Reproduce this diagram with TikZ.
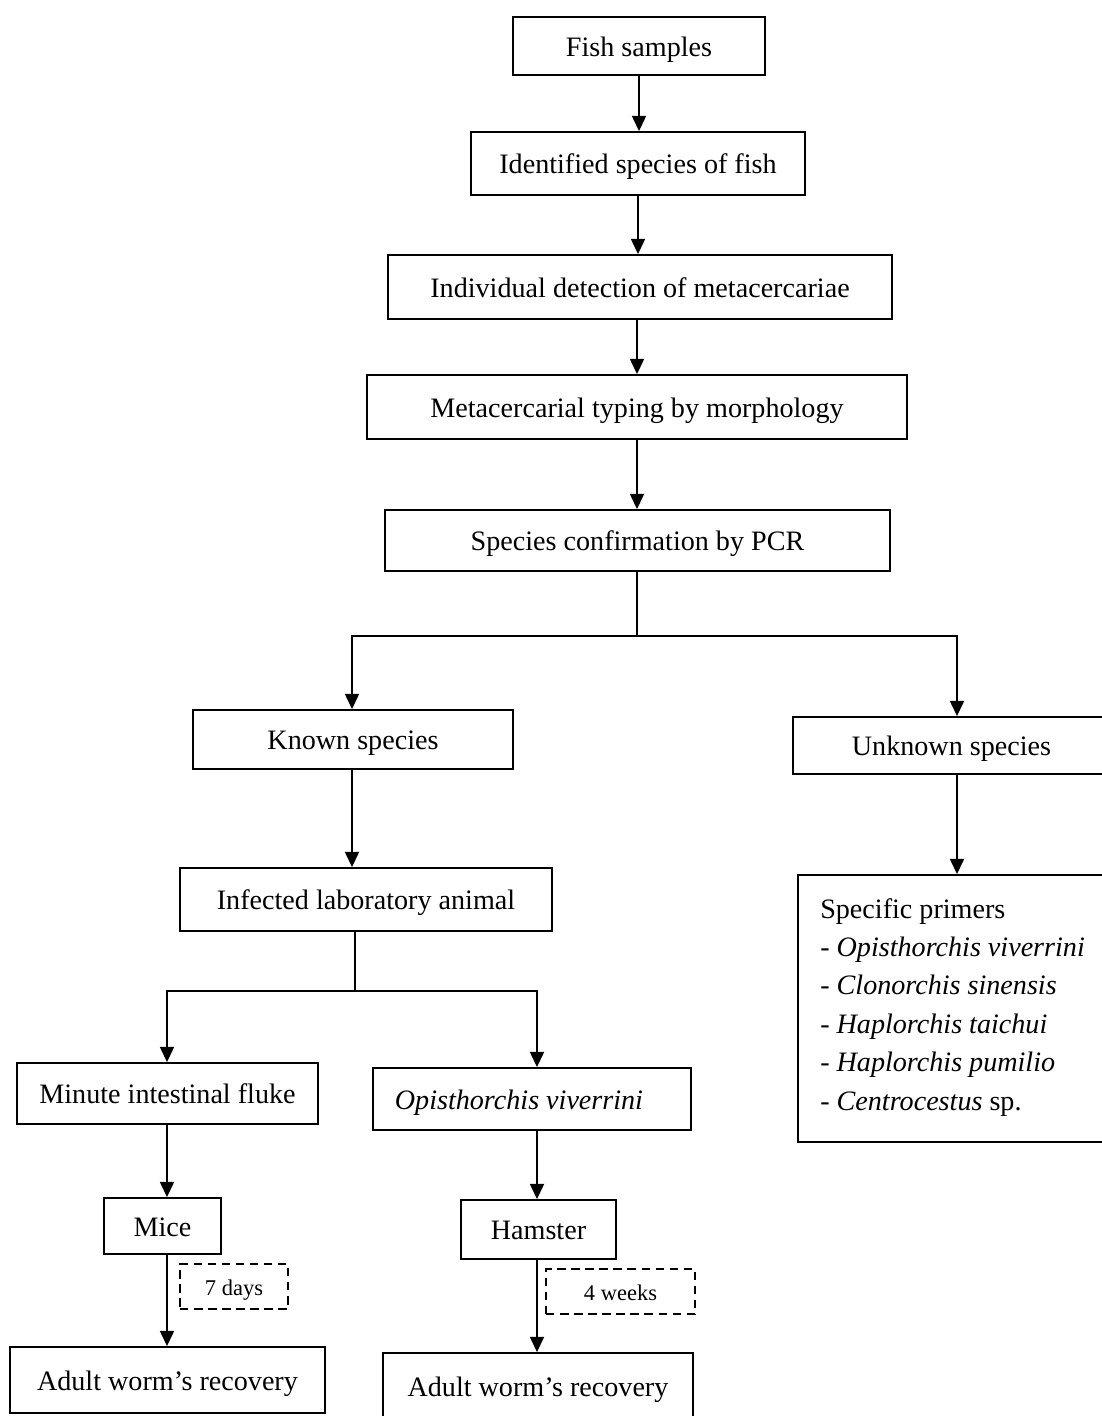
\documentclass[tikz,border=0pt]{standalone}
\usepackage{fontspec}
\setmainfont{Liberation Serif}
\usetikzlibrary{arrows.meta}
\begin{document}
\begin{tikzpicture}[x=0.025cm,y=-0.025cm,
  box/.style={draw,line width=1.3pt,inner sep=0pt,text height=19pt,text depth=4.5pt,font=\fontsize{20}{24}\selectfont},
  dbox/.style={draw,dashed,dash pattern=on 6pt off 4pt,line width=1pt,inner sep=0pt,text height=16pt,text depth=3.5pt,font=\fontsize{16}{19}\selectfont},
  conn/.style={line width=1.3pt},
  arr/.style={line width=1.3pt,-{Triangle[length=0.38cm,width=0.35cm]}}]
\useasboundingbox (0,0) rectangle (1101,1416);
\node[box,minimum width=252*0.025cm,minimum height=58*0.025cm] (fish) at (639,46) {Fish samples};
\node[box,minimum width=334*0.025cm,minimum height=63*0.025cm] (ident) at (638,163.5) {Identified species of fish};
\node[box,minimum width=504*0.025cm,minimum height=64*0.025cm] (indiv) at (640,287) {Individual detection of metacercariae};
\node[box,minimum width=540*0.025cm,minimum height=64*0.025cm] (morph) at (637,407) {Metacercarial typing by morphology};
\node[box,minimum width=505*0.025cm,minimum height=61*0.025cm] (pcr) at (637.5,540.5) {Species confirmation by PCR};
\node[box,minimum width=320*0.025cm,minimum height=59*0.025cm] (known) at (353,739.5) {Known species};
\node[box,minimum width=317*0.025cm,minimum height=57*0.025cm] (unknown) at (951.5,745.5) {Unknown species};
\node[box,minimum width=372*0.025cm,minimum height=63*0.025cm] (infected) at (366,899.5) {Infected laboratory animal};
\node[box,minimum width=301*0.025cm,minimum height=61*0.025cm] (minute) at (167.5,1093.5) {Minute intestinal fluke};
\node[box,minimum width=318*0.025cm,minimum height=62*0.025cm] (opis) at (532,1099) {\itshape Opisthorchis viverrini\kern0.65cm};
\node[box,minimum width=117*0.025cm,minimum height=56*0.025cm] (mice) at (162.5,1226) {Mice};
\node[box,minimum width=155*0.025cm,minimum height=59*0.025cm] (hamster) at (538.5,1229.5) {Hamster};
\node[box,minimum width=315*0.025cm,minimum height=66*0.025cm] (adult1) at (167.5,1380) {Adult worm’s recovery};
\node[box,minimum width=310*0.025cm,minimum height=66*0.025cm] (adult2) at (538,1386) {Adult worm’s recovery};
\node[dbox,minimum width=108*0.025cm,minimum height=45*0.025cm] (days) at (234,1286.5) {7 days};
\node[dbox,minimum width=149*0.025cm,minimum height=45*0.025cm] (weeks) at (620.5,1291.5) {4 weeks};
\node[box,minimum width=312*0.025cm,minimum height=267*0.025cm] (primers) at (954,1008.5) {};
\node[anchor=north west,inner sep=0pt,align=left,font=\fontsize{20}{27.3}\selectfont] (plist) at (820,898)
  {Specific primers\\
   - \textit{Opisthorchis viverrini}\\
   - \textit{Clonorchis sinensis}\\
   - \textit{Haplorchis taichui}\\
   - \textit{Haplorchis pumilio}\\
   - \textit{Centrocestus} sp.};
\coordinate (s0) at (637,500);
\coordinate (s1) at (637,636);
\coordinate (s1l) at (352,636);
\coordinate (s1r) at (957,636);
\coordinate (s2) at (355,991);
\coordinate (s2l) at (167,991);
\coordinate (s2r) at (537,991);
\draw[arr] (fish.south) -- (fish.south |- ident.north);
\draw[arr] (ident.south) -- (ident.south |- indiv.north);
\draw[arr] (indiv.south -| s0) -- (s0 |- morph.north);
\draw[arr] (morph.south -| s0) -- (s0 |- pcr.north);
\draw[conn] (pcr.south -| s1) -- (s1);
\draw[arr] (s1) -- (s1l) -- (s1l |- known.north);
\draw[arr] (s1) -- (s1r) -- (s1r |- unknown.north);
\draw[arr] (known.south -| s1l) -- (s1l |- infected.north);
\draw[arr] (unknown.south -| s1r) -- (s1r |- primers.north);
\draw[conn] (infected.south -| s2) -- (s2);
\draw[arr] (s2) -- (s2l) -- (s2l |- minute.north);
\draw[arr] (s2) -- (s2r) -- (s2r |- opis.north);
\draw[arr] (minute.south -| s2l) -- (s2l |- mice.north);
\draw[arr] (opis.south -| s2r) -- (s2r |- hamster.north);
\draw[arr] (mice.south -| s2l) -- (s2l |- adult1.north);
\draw[arr] (hamster.south -| s2r) -- (s2r |- adult2.north);
\end{tikzpicture}
\end{document}
